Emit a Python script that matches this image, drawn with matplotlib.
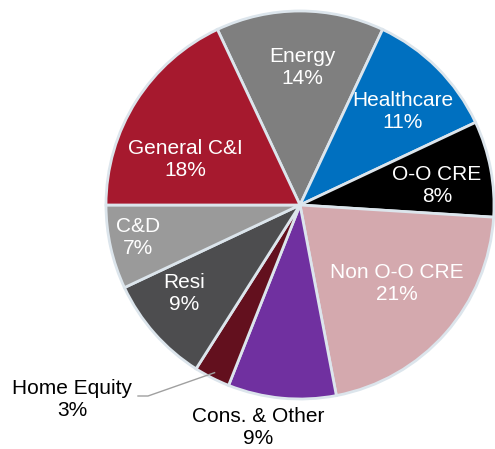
import numpy as np
import matplotlib
matplotlib.use("Agg")
import matplotlib.pyplot as plt

plt.rcParams['font.family'] = ['Liberation Sans', 'DejaVu Sans']

# Loan mix, clockwise from the top
categories = ['Energy', 'Healthcare', 'O-O CRE', 'Non O-O CRE', 'Cons. & Other',
              'Home Equity', 'Resi', 'C&D', 'General C&I']
shares = [14, 11, 8, 21, 9, 3, 9, 7, 18]
colors = ['#7f7f7f', '#0070c0', '#000000', '#d4a9ae', '#7030a0',
          '#63101e', '#4d4d4f', '#9a9a9a', '#a6192e']
text_colors = ['white', 'white', 'white', 'white', 'black',
               'black', 'white', 'white', 'white']

# label centres in pixels (layout only)
label_px = [(302, 67), (403, 111), (437, 185), (397, 283), (258, 428),
            (72, 400), (184, 293), (138, 238), (185, 159)]

W, H = 495, 449
cx, cy, R = 300, 205, 194   # pie centre and radius in pixels

fig = plt.figure(figsize=(W / 100, H / 100), dpi=100)
ax = fig.add_axes([0, 0, 1, 1])

# General C&I / C&D boundary sits at 9 o'clock
wedges, _ = ax.pie(shares, colors=colors, startangle=115.2,
                   counterclock=False, radius=1,
                   wedgeprops=dict(edgecolor='#dce5ec', linewidth=2.0))

ax.set_xlim(-cx / R, (W - cx) / R)
ax.set_ylim(-(H - cy) / R, cy / R)
ax.set_aspect('auto')
ax.axis('off')

def to_data(px, py):
    return (px - cx) / R, (cy - py) / R

for name, val, tc, (px, py) in zip(categories, shares, text_colors, label_px):
    x, y = to_data(px, py)
    ax.text(x, y, f"{name}\n{val}%", color=tc, fontsize=15, ha='center', va='center',
            linespacing=1.2)

# leader line for Home Equity
w = wedges[categories.index('Home Equity')]
mid = np.deg2rad((w.theta1 + w.theta2) / 2)
ex, ey = 0.97 * np.cos(mid), 0.97 * np.sin(mid)
x0, y0 = to_data(138, 396)
x1, y1 = to_data(148, 396)
ax.plot([x0, x1, ex], [y0, y1, ey], color='#a0a0a0', lw=1.0)

fig.savefig('out.png', dpi=100)
